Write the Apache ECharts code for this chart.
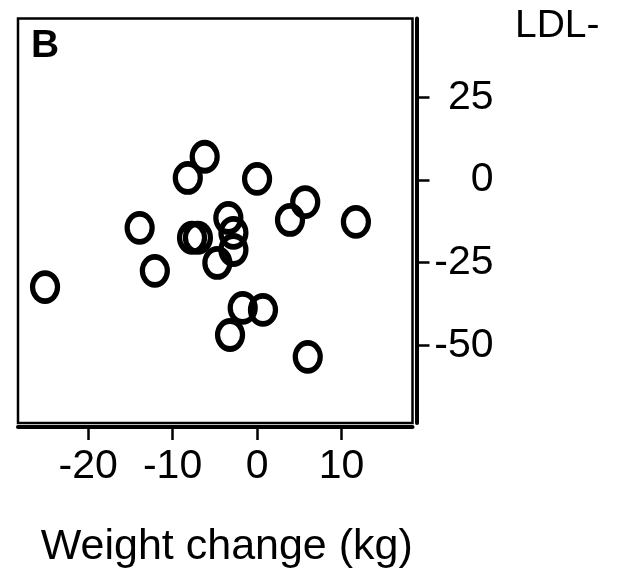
<!DOCTYPE html>
<html>
<head>
<meta charset="utf-8">
<script src="https://cdn.jsdelivr.net/npm/echarts@6/dist/echarts.min.js"></script>
<style>html,body{margin:0;padding:0;background:#fff}#c{width:619px;height:571px}</style>
</head>
<body>
<div id="c"></div>
<script>
// Weight change (kg)
var weightChange = [-25.1, -13.9, -12.1, -8.2, -6.2, -7.7, -7.0, -4.7, -3.4, -2.8, -2.8, -3.2, -1.7, 0.7, 0.0, 3.9, 5.7, 11.7, 6.0];
// LDL- change
var ldlChange = [-32.4, -14.5, -27.5, 0.6, 7.0, -17.5, -17.5, -25.1, -11.5, -16.0, -21.2, -46.9, -38.7, -39.3, 0.3, -12.1, -6.7, -12.7, -53.5];
var xTicks = [-20, -10, 0, 10];
var yTicks = [25, 0, -25, -50];
var panelLabel = 'B';
var yTitle = 'LDL-';
var xTitle = 'Weight change (kg)';

var pts = weightChange.map(function (x, i) { return [x, ldlChange[i]]; });
var FONT = "'Liberation Sans', Arial, sans-serif";
var chart = echarts.init(document.getElementById('c'));
chart.setOption({
  animation: false,
  backgroundColor: '#fff',
  title: [
    { text: panelLabel, left: 31, top: 27, textStyle: { fontFamily: FONT, fontSize: 39, fontWeight: 'bold', color: '#000' }, padding: 0 },
    { text: yTitle, left: 515, top: 7, textStyle: { fontFamily: FONT, fontSize: 39, fontWeight: 'normal', color: '#000' }, padding: 0 }
  ],
  grid: { left: 18, top: 18.5, right: 206.5, bottom: 148, show: true, borderColor: '#000', borderWidth: 2.5, containLabel: false, outerBoundsMode: 'none' },
  xAxis: {
    type: 'value', min: -28.3, max: 18.4, offset: 4,
    splitLine: { show: false },
    axisLine: { show: true, onZero: false, lineStyle: { color: '#000', width: 4 } },
    axisTick: { show: true, customValues: xTicks, length: 13, lineStyle: { color: '#000', width: 2.5 } },
    axisLabel: { customValues: xTicks, margin: 19, fontFamily: FONT, fontSize: 41, color: '#000' },
    name: xTitle, nameLocation: 'middle', nameGap: 99,
    nameTextStyle: { fontFamily: FONT, fontSize: 43, color: '#000', padding: [0, 0, 0, 23] }
  },
  yAxis: {
    type: 'value', position: 'right', min: -73.5, max: 48.8, offset: 4,
    splitLine: { show: false },
    axisLine: { show: true, onZero: false, lineStyle: { color: '#000', width: 4 } },
    axisTick: { show: true, customValues: yTicks, length: 13, lineStyle: { color: '#000', width: 2.5 } },
    axisLabel: { customValues: yTicks, margin: 77, align: 'right', fontFamily: FONT, fontSize: 41, color: '#000' }
  },
  series: [{
    type: 'scatter',
    data: pts,
    symbol: 'circle',
    symbolSize: [25, 28],
    itemStyle: { color: 'rgba(0,0,0,0)', borderColor: '#000', borderWidth: 5.5, opacity: 1 },
    emphasis: { disabled: true }
  }]
});
</script>
</body>
</html>
